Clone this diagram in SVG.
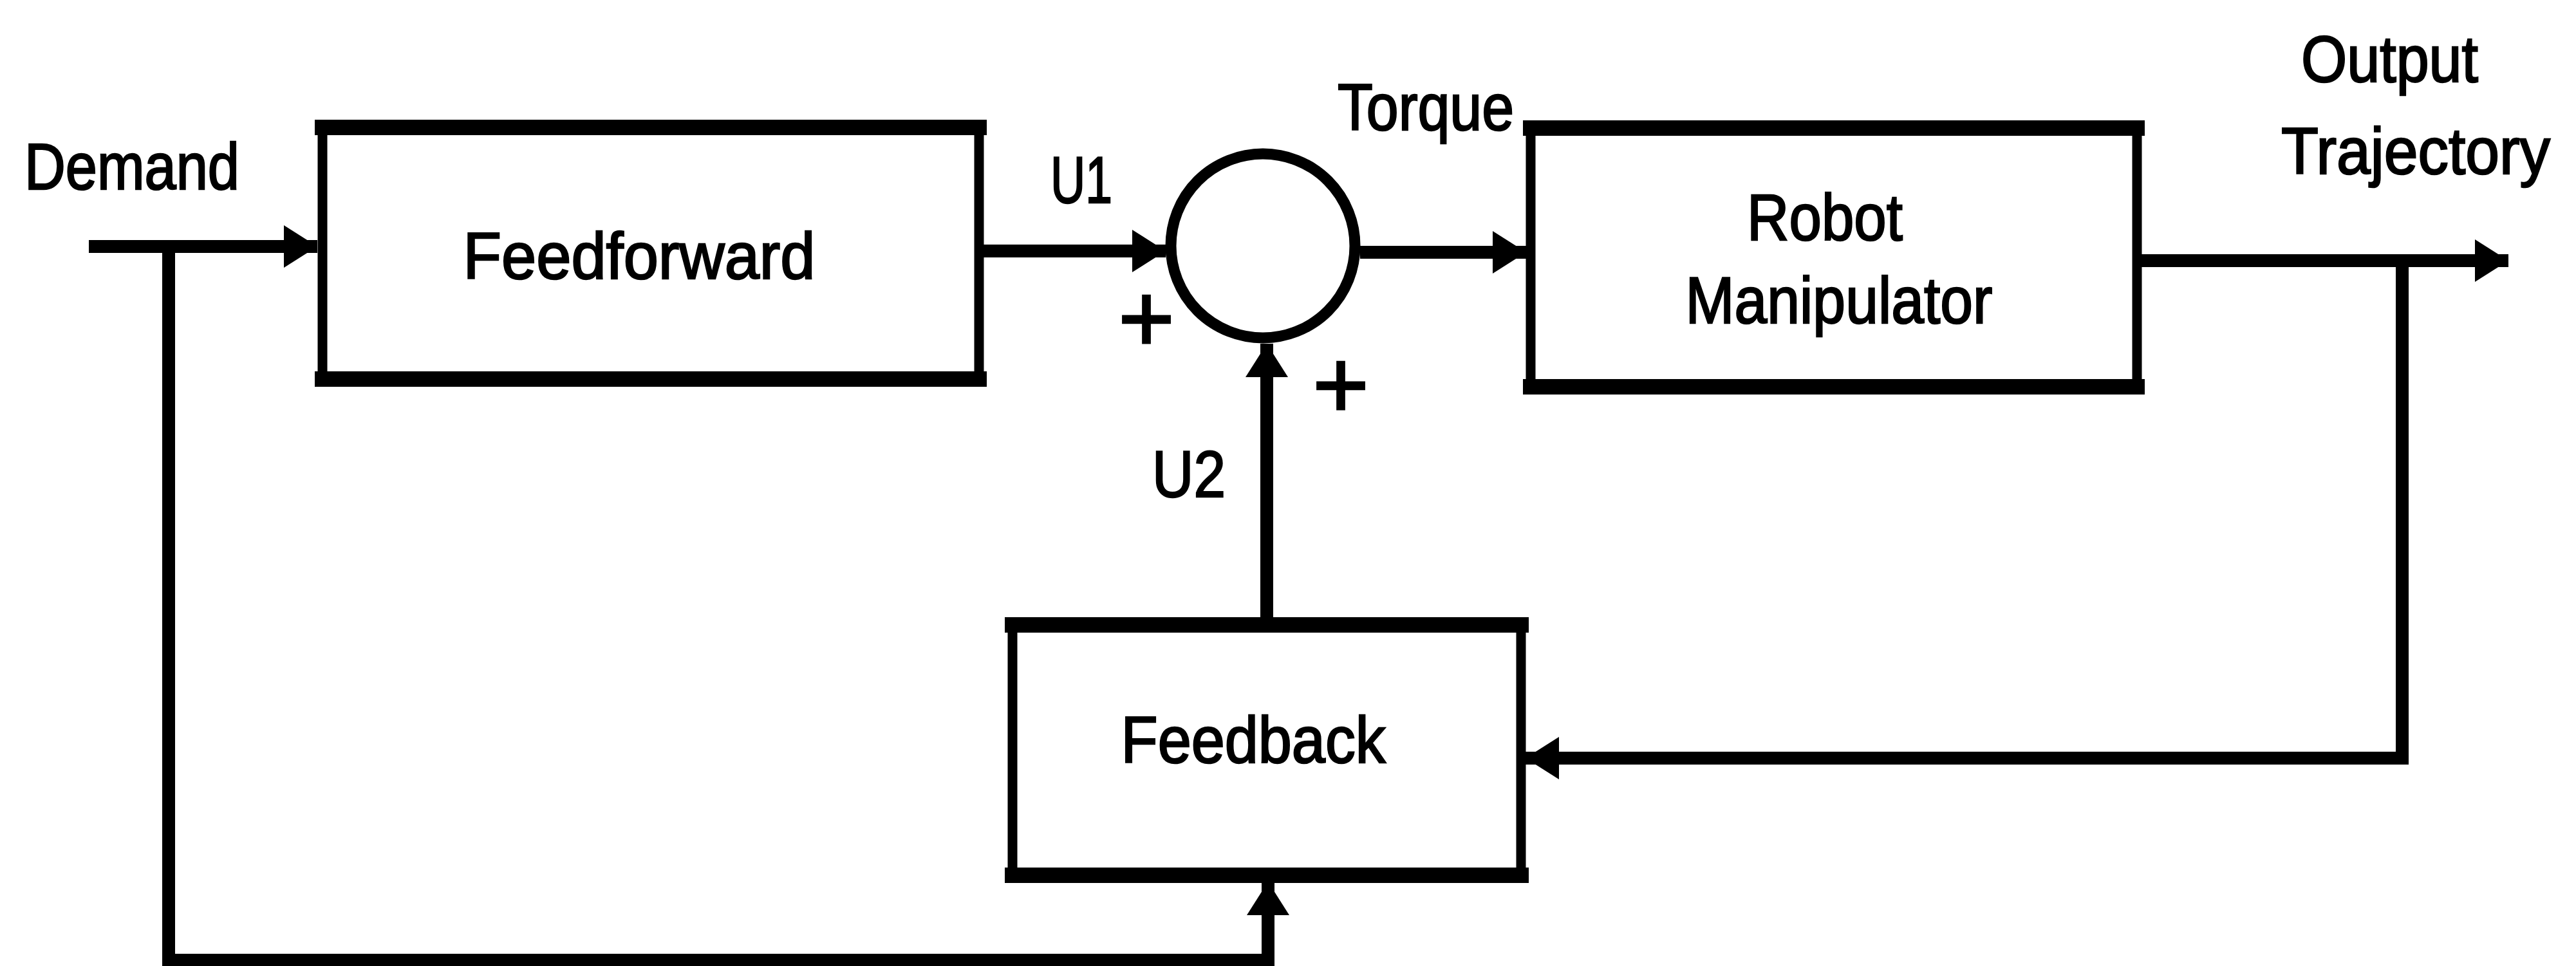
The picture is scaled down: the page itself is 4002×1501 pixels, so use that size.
<svg xmlns="http://www.w3.org/2000/svg" width="4002" height="1501" viewBox="0 0 4002 1501">
<style>
  .bg { fill: #ffffff; }
  .box { fill: #ffffff; stroke: #000000; stroke-width: 15; }
  .hedge { fill: none; stroke: #000000; stroke-width: 24; stroke-linecap: square; }
  .sum { fill: #ffffff; stroke: #000000; stroke-width: 17; }
  .wire { fill: none; stroke: #000000; stroke-width: 20; stroke-linejoin: miter; stroke-linecap: butt; marker-end: url(#arr); }
  .txt { font-family: "Liberation Sans", Arial, sans-serif; font-size: 102px; font-weight: normal; fill: #000000; stroke: #000000; stroke-width: 2.5px; }
  .mid { text-anchor: middle; }
  .plus { font-family: "Liberation Sans", Arial, sans-serif; font-size: 150px; font-weight: normal; fill: #000000; stroke: #000000; stroke-width: 3px; text-anchor: middle; }
</style>
<defs>
  <marker id="arr" markerUnits="userSpaceOnUse" markerWidth="54" markerHeight="66" refX="52" refY="33" orient="auto">
    <path d="M0,0 L52,33 L0,66 Z" fill="#000000"/>
  </marker>
</defs>
<rect class="bg" x="0" y="0" width="4002" height="1501"/>

<g id="connectors">
  <path class="wire" d="M138,383 H493"/>
  <path class="wire" d="M262,383 V1492 H1970 V1370"/>
  <path class="wire" d="M1527,390 H1811"/>
  <path class="wire" d="M1968,960 V534"/>
  <path class="wire" d="M2113,392 H2371"/>
  <path class="wire" d="M3327,405 H3897"/>
  <path class="wire" d="M3732,405 V1178 H2370"/>
</g>

<g id="feedforward">
  <rect class="box" x="501" y="198" width="1020" height="391"/>
  <path class="hedge" d="M501,198 H1521 M501,589 H1521"/>
  <text class="txt mid" x="993" y="433" textLength="547" lengthAdjust="spacingAndGlyphs">Feedforward</text>
</g>

<g id="summing-junction">
  <circle class="sum" cx="1962" cy="382" r="143"/>
</g>

<g id="robot-manipulator">
  <rect class="box" x="2378" y="199" width="942" height="402"/>
  <path class="hedge" d="M2378,199 H3320 M2378,601 H3320"/>
  <text class="txt mid" x="2835" y="373" textLength="242" lengthAdjust="spacingAndGlyphs">Robot</text>
  <text class="txt mid" x="2857" y="502" textLength="477" lengthAdjust="spacingAndGlyphs">Manipulator</text>
</g>

<g id="feedback">
  <rect class="box" x="1573" y="971" width="790" height="389"/>
  <path class="hedge" d="M1573,971 H2363 M1573,1360 H2363"/>
  <text class="txt mid" x="1947" y="1185" textLength="411" lengthAdjust="spacingAndGlyphs">Feedback</text>
</g>

<g id="labels">
  <text class="txt" x="38" y="294" textLength="334" lengthAdjust="spacingAndGlyphs">Demand</text>
  <text class="txt" x="1632" y="315" textLength="96" lengthAdjust="spacingAndGlyphs">U1</text>
  <text class="txt" x="1790" y="772" textLength="114" lengthAdjust="spacingAndGlyphs">U2</text>
  <text class="txt" x="2078" y="202" textLength="274" lengthAdjust="spacingAndGlyphs">Torque</text>
  <text class="txt" x="3575" y="127" textLength="275" lengthAdjust="spacingAndGlyphs">Output</text>
  <text class="txt" x="3544" y="270" textLength="418" lengthAdjust="spacingAndGlyphs">Trajectory</text>
  <text class="plus" x="1781" y="546">+</text>
  <text class="plus" x="2083" y="649">+</text>
</g>
</svg>
